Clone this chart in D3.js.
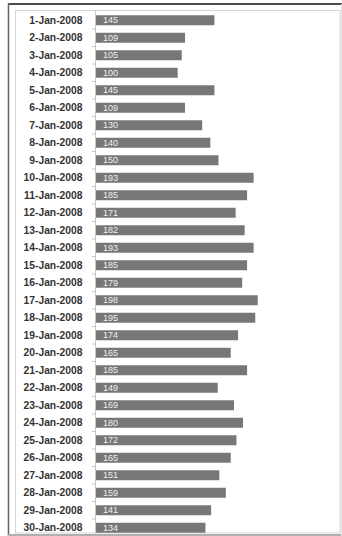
<!DOCTYPE html>
<html>
<head>
<meta charset="utf-8">
<script src="https://cdn.jsdelivr.net/npm/d3@7"></script>
<style>
  html, body { margin: 0; padding: 0; background: #ffffff; }
  svg { display: block; }
</style>
</head>
<body>
<svg id="chart" width="342" height="536"></svg>
<script>
const categories = [
  "1-Jan-2008","2-Jan-2008","3-Jan-2008","4-Jan-2008","5-Jan-2008",
  "6-Jan-2008","7-Jan-2008","8-Jan-2008","9-Jan-2008","10-Jan-2008",
  "11-Jan-2008","12-Jan-2008","13-Jan-2008","14-Jan-2008","15-Jan-2008",
  "16-Jan-2008","17-Jan-2008","18-Jan-2008","19-Jan-2008","20-Jan-2008",
  "21-Jan-2008","22-Jan-2008","23-Jan-2008","24-Jan-2008","25-Jan-2008",
  "26-Jan-2008","27-Jan-2008","28-Jan-2008","29-Jan-2008","30-Jan-2008"
];
const values = [
  145, 109, 105, 100, 145, 109, 130, 140, 150, 193,
  185, 171, 182, 193, 185, 179, 198, 195, 174, 165,
  185, 149, 169, 180, 172, 165, 151, 159, 141, 134
];
const xDomain = [0, 300];

const svg = d3.select("#chart");

// frame (screenshot border + chart area border)
svg.append("rect").attr("x", 15.5).attr("y", 10.5).attr("width", 324.5).attr("height", 522.5)
  .attr("fill", "#ffffff").attr("stroke", "#d4d4d4").attr("stroke-width", 1);
svg.append("line").attr("x1", 8).attr("x2", 342).attr("y1", 4).attr("y2", 4)
  .attr("stroke", "#111").attr("stroke-width", 1.5);
svg.append("line").attr("x1", 8.5).attr("x2", 8.5).attr("y1", 3.5).attr("y2", 536)
  .attr("stroke", "#666").attr("stroke-width", 1.5);
svg.append("line").attr("x1", 8).attr("x2", 342).attr("y1", 535).attr("y2", 535)
  .attr("stroke", "#b0b0b0").attr("stroke-width", 2);
svg.append("line").attr("x1", 341.5).attr("x2", 341.5).attr("y1", 4).attr("y2", 536)
  .attr("stroke", "#e4e4e4").attr("stroke-width", 1);

const x = d3.scaleLinear().domain(xDomain).range([96, 341]);
const y = d3.scaleBand().domain(categories).range([11.5, 536.5])
  .paddingInner(0.43).paddingOuter(0.215);

// bars
svg.append("g").selectAll("rect").data(values).join("rect")
  .attr("x", x(0))
  .attr("y", (d, i) => y(categories[i]))
  .attr("width", d => x(d) - x(0))
  .attr("height", y.bandwidth())
  .attr("fill", "#777777");

// value labels
svg.append("g").selectAll("text").data(values).join("text")
  .attr("x", x(0) + 7)
  .attr("y", (d, i) => y(categories[i]) + y.bandwidth() / 2)
  .attr("dy", "0.36em")
  .attr("font-family", "Liberation Sans, Arial, sans-serif")
  .attr("font-size", 9)
  .attr("fill", "#f0f0f0")
  .text(d => d);

// category axis
const yAxis = d3.axisLeft(y).tickSize(0).tickPadding(13);
const gy = svg.append("g").attr("transform", "translate(95.5,0)").call(yAxis);
gy.select(".domain").attr("stroke", "#c8c8c8").attr("d", "M0,10.5V533");
gy.selectAll("text")
  .attr("font-family", "Liberation Sans, Arial, sans-serif")
  .attr("font-size", 10.3)
  .attr("font-weight", "bold")
  .attr("fill", "#333333");

// small tick marks at category boundaries
const bounds = categories.slice(1).map(c => y(c) - y.step() * y.paddingInner() / 2);
svg.append("g").selectAll("line").data(bounds).join("line")
  .attr("x1", 92).attr("x2", 95.5)
  .attr("y1", d => d).attr("y2", d => d)
  .attr("stroke", "#c8c8c8").attr("stroke-width", 1);
</script>
</body>
</html>
